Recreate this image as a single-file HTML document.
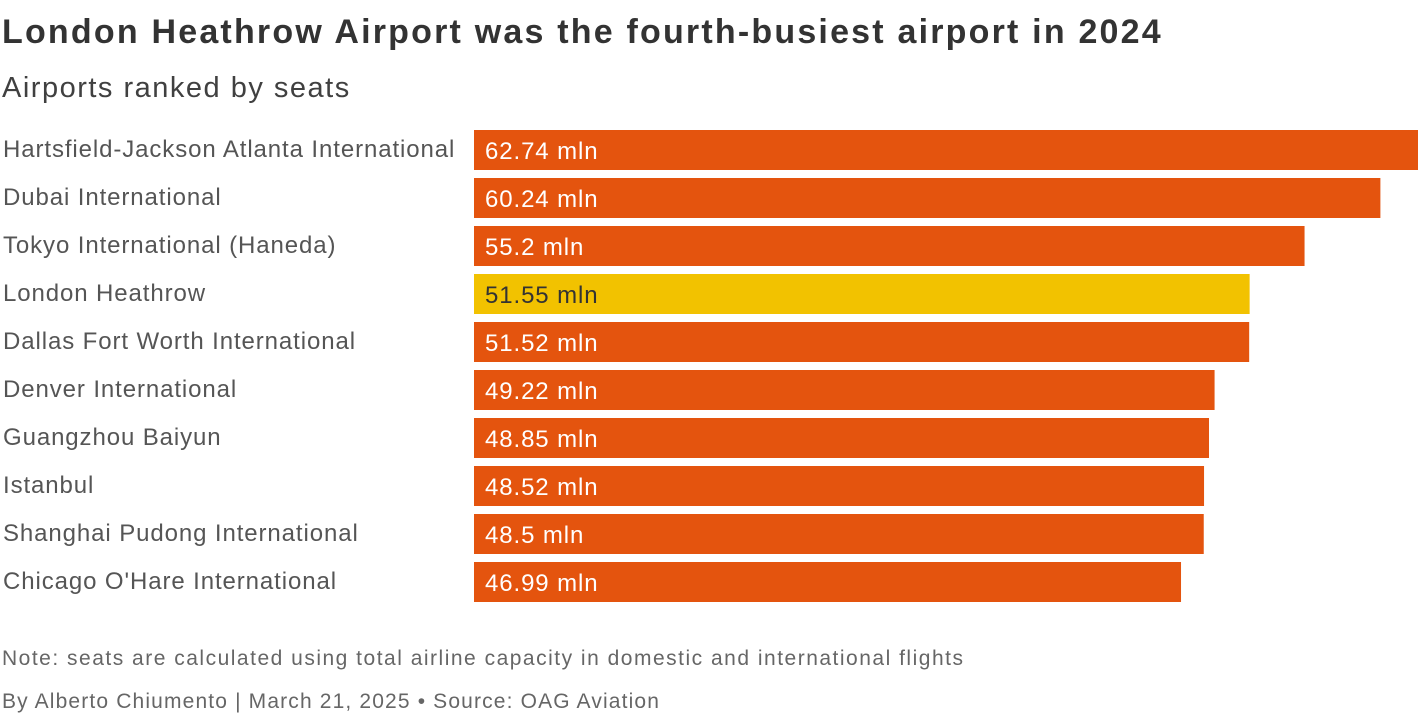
<!DOCTYPE html>
<html><head><meta charset="utf-8"><style>
body{margin:0;width:1420px;height:716px;background:#fff;font-family:"Liberation Sans",sans-serif;overflow:hidden;position:relative}
.t{position:absolute;left:2px;white-space:nowrap}
</style></head><body>
<div class="t" style="top:13px;font-size:34px;font-weight:bold;color:#333;letter-spacing:2.2px">London Heathrow Airport was the fourth-busiest airport in 2024</div>
<div class="t" style="top:72px;font-size:29px;color:#404040;letter-spacing:1.5px">Airports ranked by seats</div>
<svg id="c" width="1420" height="620" style="position:absolute;left:0;top:0"></svg>
<div class="t" style="top:647px;font-size:21px;color:#666;letter-spacing:1.5px">Note: seats are calculated using total airline capacity in domestic and international flights</div>
<div class="t" style="top:690px;font-size:21px;color:#666;letter-spacing:1.15px">By Alberto Chiumento | March 21, 2025 • Source: OAG Aviation</div>
<script>
const categories=["Hartsfield-Jackson Atlanta International","Dubai International","Tokyo International (Haneda)","London Heathrow","Dallas Fort Worth International","Denver International","Guangzhou Baiyun","Istanbul","Shanghai Pudong International","Chicago O'Hare International"];
const values=[62.74,60.24,55.2,51.55,51.52,49.22,48.85,48.52,48.5,46.99];
const valueLabels=["62.74 mln","60.24 mln","55.2 mln","51.55 mln","51.52 mln","49.22 mln","48.85 mln","48.52 mln","48.5 mln","46.99 mln"];
const highlight="London Heathrow";
const svg=document.getElementById('c');const NS="http://www.w3.org/2000/svg";
const x0=474,x1=1418,maxV=62.74;
const x=v=>x0+(v/maxV)*(x1-x0);
const y=i=>130+i*48;
categories.forEach((c,i)=>{
 const l=document.createElementNS(NS,'text');
 
 
 l.setAttribute('x',3);l.setAttribute('y',y(i)+27);l.setAttribute('font-size','24');l.setAttribute('letter-spacing','0.9');l.setAttribute('fill','#555');l.textContent=c;svg.appendChild(l);
 const r=document.createElementNS(NS,'rect');
 
 
 r.setAttribute('x',x0);r.setAttribute('y',y(i));r.setAttribute('width',x(values[i])-x0);r.setAttribute('height',40);
 const hi=c===highlight;r.setAttribute('fill',hi?'#f2c200':'#e4540e');svg.appendChild(r);
 const t=document.createElementNS(NS,'text');
 
 
 t.setAttribute('x',x0+11);t.setAttribute('y',y(i)+29);t.setAttribute('font-size','24');t.setAttribute('letter-spacing','0.9');t.setAttribute('fill',hi?'#333':'#fff');t.textContent=valueLabels[i];svg.appendChild(t);
});
</script>
</body></html>
